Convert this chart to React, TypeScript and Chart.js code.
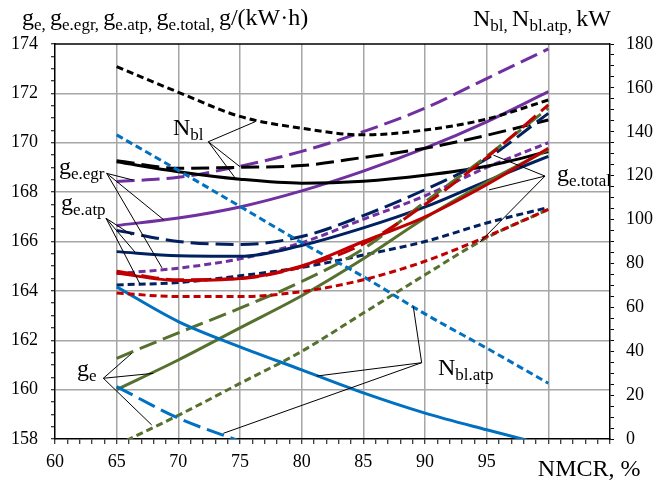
import { useEffect, useRef } from "react";
import { Chart, registerables } from "chart.js";
Chart.register(...registerables);

// NMCR, %
const NMCR = [65, 70, 75, 80, 85, 90, 95, 100];

// g_e (olive) – left axis
const geSolid = [160.0, 161.2, 162.5, 163.8, 165.3, 166.95, 168.4, 169.72];
const geLong = [161.27, 162.3, 163.3, 164.38, 165.7, 167.6, 169.45, 171.4];
const geShort = [157.75, 158.96, 160.25, 161.55, 163.1, 164.65, 166.15, 167.3];
// g_e.egr (purple)
const geEgrSolid = [166.65, 166.95, 167.4, 168.05, 168.85, 169.78, 170.85, 172.07];
const geEgrLong = [168.43, 168.6, 169.05, 169.65, 170.45, 171.4, 172.6, 173.8];
const geEgrShort = [164.7, 164.92, 165.3, 165.95, 166.9, 167.85, 169.0, 170.0];
// g_e.atp (navy)
const geAtpSolid = [165.59, 165.42, 165.4, 165.84, 166.55, 167.4, 168.45, 169.45];
const geAtpLong = [166.45, 166.0, 165.88, 166.2, 167.05, 168.1, 169.35, 171.19];
const geAtpShort = [164.24, 164.34, 164.61, 164.95, 165.45, 166.0, 166.75, 167.38];
// g_e.total (red)
const geTotSolid = [164.72, 164.42, 164.5, 165.01, 166.0, 167.0, 168.3, 169.78];
const geTotLong = [164.8, 164.45, 164.5, 164.98, 165.9, 167.5, 169.4, 171.53];
const geTotShort = [163.91, 163.77, 163.77, 163.97, 164.45, 165.2, 166.2, 167.3];
// N_bl (black) – right axis, kW
const nblSolid = [126.3, 121.8, 118.4, 116.6, 117.5, 120.2, 124.3, 131];
const nblLong = [126.8, 123.4, 123.8, 124.6, 128.3, 132.5, 138.4, 145.4];
const nblShort = [169.7, 158, 147, 141.6, 138.6, 140.8, 145.8, 154.5];
// N_bl.atp (blue) – right axis, kW
const nblAtpSolid = [69.3, 53.5, 42, 31.5, 21, 11.8, 4.2, -3];
const nblAtpLong = [23.9, 9.5, -1, null, null, null, null, null];
const nblAtpShort = [138.6, 122.4, 106, 89.5, 74, 57, 41.4, 25.4];

// tick label values
const X_LABELS = [60, 65, 70, 75, 80, 85, 90, 95];

// annotation labels (anchor in data units: NMCR, left-axis value)
const LABELS: { at: [number, number]; runs: [string, boolean][] }[] = [
  { at: [69.57, 170.31], runs: [["N", false], ["bl", true]] },
  { at: [60.32, 168.73], runs: [["g", false], ["e.egr", true]] },
  { at: [60.49, 167.28], runs: [["g", false], ["e.atp", true]] },
  { at: [61.78, 160.55], runs: [["g", false], ["e", true]] },
  { at: [100.7, 168.45], runs: [["g", false], ["e.total", true]] },
  { at: [91.05, 160.59], runs: [["N", false], ["bl.atp", true]] },
];
const LEADERS: { from: [number, number]; to: [number, number][] }[] = [
  { from: [72.43, 170.04], to: [[76.22, 170.85], [75.0, 169.03], [74.73, 168.49]] },
  { from: [64.19, 168.76], to: [[66.32, 168.49], [68.84, 166.87], [68.68, 164.93]] },
  { from: [64.14, 166.94], to: [[66.24, 166.26], [66.49, 165.57], [66.89, 164.28]] },
  { from: [63.92, 160.46], to: [[66.22, 161.47], [67.97, 160.66], [67.84, 158.57]] },
  { from: [99.73, 168.65], to: [[95.54, 169.5], [95.19, 168.09], [94.46, 165.98]] },
  { from: [89.73, 161.09], to: [[89.05, 163.36], [81.22, 160.55], [73.65, 158.23]] },
];

const FONT = '"Liberation Serif", "Times New Roman", serif';
const GRID = "#a6a6a6";
const CLEAR = "rgba(0,0,0,0)";
const SOLID: number[] = [];
const LONG = [18, 7];
const SHORT = [7, 4];
const C = {
  black: "#000000",
  purple: "#7030A0",
  navy: "#002060",
  red: "#C00000",
  green: "#56702E",
  blue: "#0070C0",
};

function drawRuns(ctx: CanvasRenderingContext2D, x: number, y: number, runs: [string, boolean][]) {
  let cx = x;
  for (const [t, sub] of runs) {
    ctx.font = `${sub ? 17 : 24}px ${FONT}`;
    ctx.fillText(t, cx, sub ? y + 5 : y);
    cx += ctx.measureText(t).width;
  }
}

const overlay = {
  id: "overlay",
  afterDraw(chart: any) {
    const { ctx, chartArea: ca, scales } = chart;
    const xs = scales.x;
    const ys = scales.y;
    const px = (p: [number, number]) => [xs.getPixelForValue(p[0]), ys.getPixelForValue(p[1])];
    ctx.save();
    ctx.strokeStyle = "#000";
    ctx.lineWidth = 1.5;
    ctx.beginPath();
    ctx.moveTo(ca.left, ca.top);
    ctx.lineTo(ca.right, ca.top);
    ctx.stroke();

    ctx.lineWidth = 1;
    for (const l of LEADERS) {
      const [ox, oy] = px(l.from);
      for (const t of l.to) {
        const [tx, ty] = px(t);
        ctx.beginPath();
        ctx.moveTo(ox, oy);
        ctx.lineTo(tx, ty);
        ctx.stroke();
      }
    }
    ctx.fillStyle = "#000";
    ctx.textAlign = "left";
    ctx.textBaseline = "alphabetic";
    for (const lb of LABELS) {
      const [lx, ly] = px(lb.at);
      drawRuns(ctx, lx, ly, lb.runs);
    }
    // axis titles
    drawRuns(ctx, 22, 25, [
      ["g", false], ["e, ", true], ["g", false], ["e.egr, ", true],
      ["g", false], ["e.atp, ", true], ["g", false], ["e.total, ", true], ["g/(kW·h)", false],
    ]);
    drawRuns(ctx, 473, 26, [["N", false], ["bl, ", true], ["N", false], ["bl.atp, ", true], ["kW", false]]);
    ctx.font = `24px ${FONT}`;
    ctx.fillText("NMCR, %", xs.getPixelForValue(99.15), ca.bottom + 37);
    ctx.restore();
  },
};

export default function App() {
  const ref = useRef<HTMLCanvasElement>(null);
  useEffect(() => {
    if (!ref.current) return;
    Chart.defaults.font.family = FONT;
    const mk = (label: string, arr: (number | null)[], color: string, dash: number[], axis: string) => ({
      label,
      data: NMCR.map((x, i) => ({ x, y: arr[i] })),
      borderColor: color,
      backgroundColor: color,
      borderWidth: 3,
      borderDash: dash,
      pointRadius: 0,
      cubicInterpolationMode: "monotone" as const,
      yAxisID: axis,
      clip: 0,
      fill: false,
    });
    const isStep = (v: number, s: number) => {
      const r = Math.round(v);
      return Math.abs(v - r) < 1e-6 && r % s === 0;
    };
    const tickFont = { size: 18, family: FONT };
    const chart = new Chart(ref.current, {
      type: "line",
      data: {
        // first dataset is drawn on top
        datasets: [
          mk("g_e.total long", geTotLong, C.red, LONG, "y"),
          mk("g_e.total", geTotSolid, C.red, SOLID, "y"),
          mk("g_e.total short", geTotShort, C.red, SHORT, "y"),
          mk("N_bl.atp short", nblAtpShort, C.blue, SHORT, "y1"),
          mk("N_bl.atp", nblAtpSolid, C.blue, SOLID, "y1"),
          mk("N_bl.atp long", nblAtpLong, C.blue, LONG, "y1"),
          mk("g_e long", geLong, C.green, LONG, "y"),
          mk("g_e", geSolid, C.green, SOLID, "y"),
          mk("g_e short", geShort, C.green, SHORT, "y"),
          mk("g_e.atp long", geAtpLong, C.navy, LONG, "y"),
          mk("g_e.atp", geAtpSolid, C.navy, SOLID, "y"),
          mk("g_e.atp short", geAtpShort, C.navy, SHORT, "y"),
          mk("N_bl", nblSolid, C.black, SOLID, "y1"),
          mk("N_bl long", nblLong, C.black, LONG, "y1"),
          mk("N_bl short", nblShort, C.black, SHORT, "y1"),
          mk("g_e.egr", geEgrSolid, C.purple, SOLID, "y"),
          mk("g_e.egr long", geEgrLong, C.purple, LONG, "y"),
          mk("g_e.egr short", geEgrShort, C.purple, SHORT, "y"),
        ],
      },
      options: {
        animation: false,
        responsive: false,
        devicePixelRatio: 1,
        layout: { padding: { top: 44, left: 0, right: 0, bottom: 0 } },
        plugins: { legend: { display: false }, tooltip: { enabled: false } },
        scales: {
          x: {
            type: "linear",
            min: 60,
            max: 105,
            afterFit: (s: any) => { s.height = 42; },
            ticks: {
              stepSize: 1,
              autoSkip: false,
              maxRotation: 0,
              padding: 7,
              color: "#000",
              font: tickFont,
              callback: (v: any) => (X_LABELS.includes(Math.round(v)) && isStep(v, 5) ? String(Math.round(v)) : ""),
            },
            grid: {
              color: (c: any) => {
                const v = c.tick ? c.tick.value : NaN;
                return isStep(v, 5) && v > 60 && v < 105 ? GRID : CLEAR;
              },
              lineWidth: 1.5,
              tickColor: "#000",
              tickLength: 5,
              tickWidth: 1,
            },
            border: { color: "#000", width: 1.5 },
          },
          y: {
            position: "left",
            min: 158,
            max: 174,
            afterFit: (s: any) => { s.width = 55; },
            ticks: {
              stepSize: 0.5,
              autoSkip: false,
              padding: 13,
              color: "#000",
              font: tickFont,
              callback: (v: any) => (isStep(v, 2) ? String(Math.round(v)) : ""),
            },
            grid: {
              color: (c: any) => {
                const v = c.tick ? c.tick.value : NaN;
                return isStep(v, 2) && v > 158 && v < 174 ? GRID : CLEAR;
              },
              lineWidth: 1.5,
              tickColor: "#000",
              tickLength: 4,
              tickWidth: 1,
            },
            border: { color: "#000", width: 1.5 },
          },
          y1: {
            position: "right",
            min: 0,
            max: 180,
            afterFit: (s: any) => { s.width = 56; },
            ticks: {
              stepSize: 5,
              autoSkip: false,
              padding: 12,
              color: "#000",
              font: tickFont,
              callback: (v: any) => (isStep(v, 20) ? String(Math.round(v)) : ""),
            },
            grid: { drawOnChartArea: false, tickColor: "#000", tickLength: 4, tickWidth: 1 },
            border: { color: "#000", width: 1.5 },
          },
        },
      },
      plugins: [overlay],
    } as any);
    return () => chart.destroy();
  }, []);
  return (
    <div style={{ position: "absolute", left: 0, top: 0, width: 666, height: 481, background: "#fff" }}>
      <canvas ref={ref} width={666} height={481} style={{ display: "block", width: 666, height: 481 }} />
    </div>
  );
}
